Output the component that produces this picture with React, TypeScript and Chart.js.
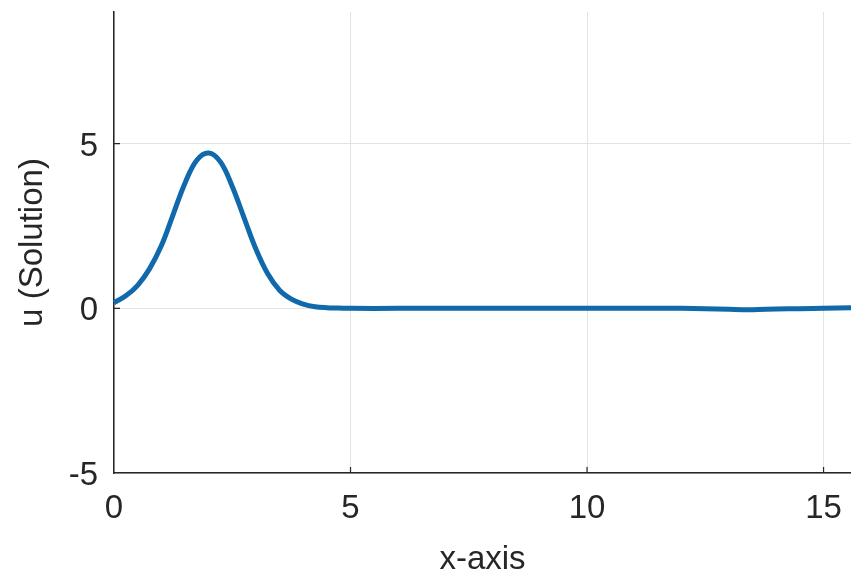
import React, { useEffect, useRef } from "react";
import { Chart, registerables } from "chart.js";

Chart.register(...registerables);

const xValues = [0, 0.25, 0.5, 0.75, 1, 1.25, 1.5, 1.75, 2, 2.25, 2.5, 2.75, 3, 3.25, 3.5, 3.75, 4, 4.25, 4.5, 4.75, 5, 6, 7, 8, 9, 10, 11, 12, 12.5, 13, 13.5, 14, 14.5, 15, 15.6];
const uValues = [0.17, 0.38, 0.7, 1.2, 1.9, 2.85, 3.8, 4.5, 4.72, 4.45, 3.7, 2.75, 1.8, 1.05, 0.55, 0.28, 0.13, 0.05, 0.02, 0.01, 0, 0, 0, 0, 0, 0, 0, 0, -0.01, -0.03, -0.04, -0.02, -0.01, 0, 0.02];
const xTicks = [0, 5, 10, 15];
const yTicks = [-5, 0, 5];
const xRange = [0, 15.58];
const yRange = [-5, 9];

const FONT = "'Liberation Sans', Arial, Helvetica, sans-serif";
const TEXT = "#262626";

const innerTicks = {
  id: "innerTicks",
  afterDraw(chart: any) {
    const { ctx, chartArea, scales } = chart;
    ctx.save();
    ctx.strokeStyle = TEXT;
    ctx.lineWidth = 1.2;
    ctx.beginPath();
    for (const v of xTicks) {
      const px = scales.x.getPixelForValue(v);
      if (px < chartArea.left + 2 || px > chartArea.right) continue;
      ctx.moveTo(px, chartArea.bottom);
      ctx.lineTo(px, chartArea.bottom - 6);
    }
    for (const v of yTicks) {
      const py = scales.y.getPixelForValue(v);
      if (py > chartArea.bottom - 2 || py < chartArea.top) continue;
      ctx.moveTo(chartArea.left, py);
      ctx.lineTo(chartArea.left + 6, py);
    }
    ctx.stroke();
    ctx.restore();
  },
};

export default function App() {
  const ref = useRef<HTMLCanvasElement | null>(null);
  useEffect(() => {
    if (!ref.current) return;
    const chart = new Chart(ref.current, {
      type: "line",
      data: {
        datasets: [
          {
            data: xValues.map((x, i) => ({ x, y: uValues[i] })),
            borderColor: "#0f69ab",
            borderWidth: 5,
            pointRadius: 0,
            fill: false,
            tension: 0.4,
            clip: false as any,
          },
        ],
      },
      options: {
        animation: false,
        responsive: false,
        maintainAspectRatio: false,
        layout: { padding: 0 },
        plugins: { legend: { display: false }, tooltip: { enabled: false } },
        scales: {
          x: {
            type: "linear",
            min: xRange[0],
            max: xRange[1],
            afterBuildTicks: (s: any) => {
              s.ticks = xTicks.map((v) => ({ value: v }));
            },
            afterFit: (s: any) => {
              s.height = 107;
              s.paddingLeft = 0;
              s.paddingRight = 0;
            },
            grid: { color: "#e3e3e3", drawTicks: false, lineWidth: 1 },
            border: { display: true, color: TEXT, width: 1.5 },
            ticks: { color: TEXT, padding: 16, font: { family: FONT, size: 33 }, maxRotation: 0 },
            title: { display: true, text: "x-axis", color: TEXT, font: { family: FONT, size: 33 }, padding: { top: 0, bottom: 0 } },
          },
          y: {
            type: "linear",
            min: yRange[0],
            max: yRange[1],
            afterBuildTicks: (s: any) => {
              s.ticks = yTicks.map((v) => ({ value: v }));
            },
            afterFit: (s: any) => {
              s.width = 114;
              s.paddingTop = 12;
              s.paddingBottom = 0;
            },
            grid: { color: "#e3e3e3", drawTicks: false, lineWidth: 1 },
            border: { display: true, color: TEXT, width: 1.5 },
            ticks: { color: TEXT, padding: 16, labelOffset: 3, font: { family: FONT, size: 33 } },
            title: { display: true, text: "u (Solution)", color: TEXT, font: { family: FONT, size: 33 }, padding: { top: 13, bottom: 0 } },
          },
        },
      },
      plugins: [innerTicks],
    });
    return () => chart.destroy();
  }, []);
  return (
    <div style={{ position: "fixed", left: 0, top: 0, width: 851, height: 580, background: "#fff" }}>
      <canvas ref={ref} width={851} height={580} style={{ display: "block", width: 851, height: 580 }} />
    </div>
  );
}
